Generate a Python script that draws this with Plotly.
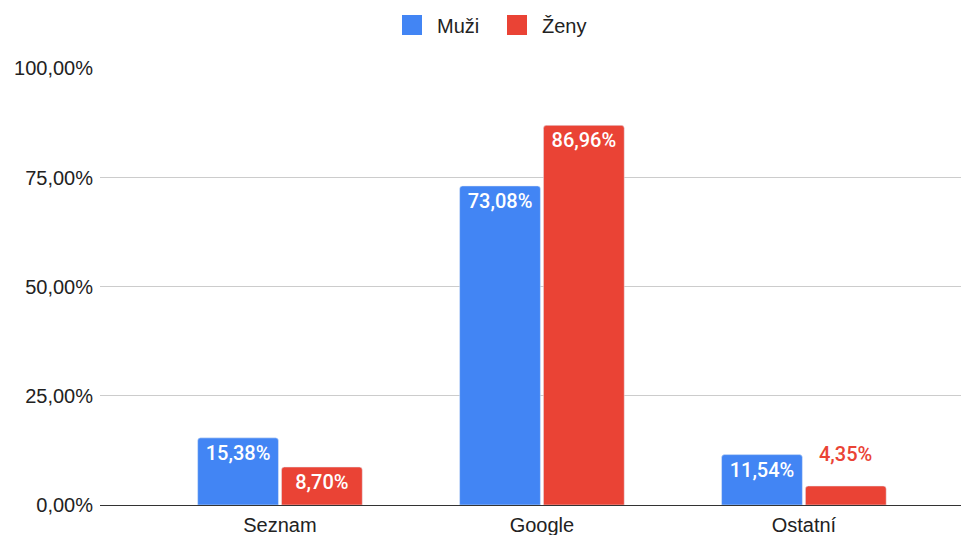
import plotly.graph_objects as go

categories = ["Seznam", "Google", "Ostatní"]
series_names = ["Muži", "Ženy"]
muzi = [0.1538, 0.7308, 0.1154]
zeny = [0.0870, 0.8696, 0.0435]
y_ticks = [0, 0.25, 0.5, 0.75, 1.0]

BLUE = "#4285F4"
RED = "#EA4335"
FONT = "Liberation Sans, Arial, sans-serif"
LABEL_FONT = "Roboto, Arial, sans-serif"
THRESH = 0.06
BARGAP = 0.36
GROUPGAP = 0.036

fig = go.Figure()
series = [(series_names[0], muzi, BLUE), (series_names[1], zeny, RED)]
annotations = []
for k, (name, vals, col) in enumerate(series):
    fig.add_trace(go.Bar(
        name=name, x=categories, y=vals, marker=dict(color=col, cornerradius=3),
        text=[f"{v * 100:.2f}%".replace(".", ",") if v >= THRESH else "" for v in vals],
        textposition="inside", insidetextanchor="end",
        textfont=dict(family=LABEL_FONT, size=20, color="white", weight=500),
        cliponaxis=False, hoverinfo="skip", showlegend=False,
    ))
    # small values: label above the bar in the series colour
    slot = (1 - BARGAP) / len(series)
    for i, v in enumerate(vals):
        if v < THRESH:
            annotations.append(dict(
                x=i + (k - (len(series) - 1) / 2) * slot, y=v, xref="x", yref="y",
                text=f"{v * 100:.2f}%".replace(".", ","), showarrow=False,
                yanchor="bottom", yshift=18,
                font=dict(family=LABEL_FONT, size=20, color=col, weight=500),
            ))

# legend swatches
for name, col in [(series_names[0], BLUE), (series_names[1], RED)]:
    fig.add_trace(go.Scatter(
        name=name, x=[None], y=[None], mode="markers",
        marker=dict(symbol="square", size=16, color=col,
                    line=dict(color=col, width=4)),
        showlegend=True,
    ))

fig.update_layout(
    width=969, height=535,
    margin=dict(l=92, r=12, t=60, b=38, autoexpand=False),
    paper_bgcolor="white", plot_bgcolor="white",
    separators=", ",
    barmode="group", bargap=BARGAP, bargroupgap=GROUPGAP,
    font=dict(family=FONT, size=20, color="#222222"),
    showlegend=True,
    legend=dict(orientation="h", xref="container", yref="container",
                x=0.4995, xanchor="center", y=0.968, yanchor="middle",
                font=dict(size=20, color="#222222"), itemwidth=40,
                entrywidth=50, itemsizing="trace"),
    annotations=annotations,
)
fig.update_xaxes(range=[-0.687, 2.615], showgrid=False, showline=False,
                 ticks="", ticklabelstandoff=6, automargin=False,
                 tickfont=dict(size=20, color="#222222"))
fig.update_yaxes(range=[0, 1.001], tickvals=y_ticks, tickformat=".2%",
                 showgrid=True, gridcolor="#CCCCCC", gridwidth=1,
                 zeroline=True, zerolinecolor="#333333", zerolinewidth=1,
                 ticks="", ticklabelstandoff=6, automargin=False,
                 tickfont=dict(size=20, color="#222222"))

fig.write_html("out.html")
